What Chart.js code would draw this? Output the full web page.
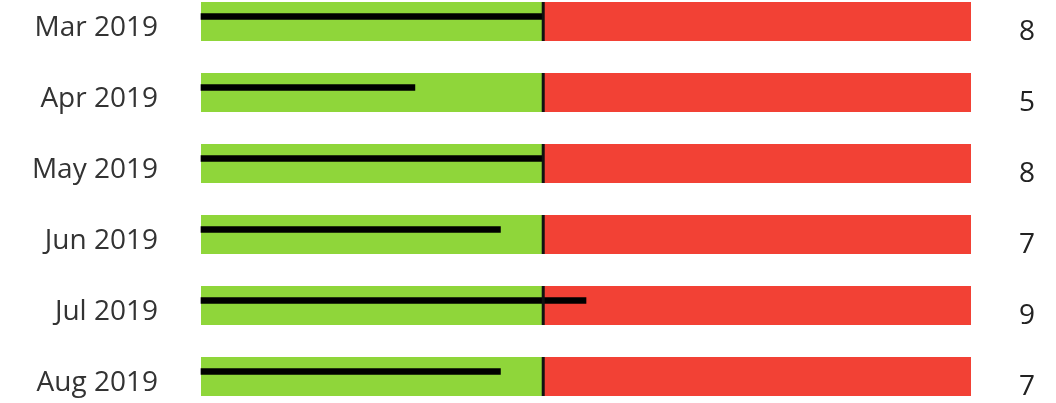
<!DOCTYPE html>
<html>
<head>
<meta charset="utf-8">
<script src="https://cdn.jsdelivr.net/npm/chart.js@4/dist/chart.umd.min.js"></script>
<style>
  html, body { margin: 0; padding: 0; background: #fff; overflow: hidden; }
  body { width: 1056px; height: 403px; position: relative; }
  /* the visual is cropped top and bottom, so the canvas runs past the window */
  #wrap { position: absolute; left: 0; top: -14px; width: 1056px; height: 426px; }
</style>
</head>
<body>
<div id="wrap"><canvas id="bullet"></canvas></div>
<script>
  const months = ["Mar 2019", "Apr 2019", "May 2019", "Jun 2019", "Jul 2019", "Aug 2019"];
  const actual = [8, 5, 8, 7, 9, 7];
  const target = [8, 8, 8, 8, 8, 8];
  const goodUpTo = [8, 8, 8, 8, 8, 8];
  const badUpTo = [18, 18, 18, 18, 18, 18];

  const GREEN = "rgb(143,214,58)";
  const RED = "rgb(242,65,53)";
  const FONT = { family: "'Open Sans', 'Noto Sans', sans-serif", size: 28 };

  // value bars sit a little above the band centre, like the original visual
  const nudgeActual = {
    id: "nudgeActual",
    beforeDatasetDraw(chart, args) {
      if (args.index !== 2) return;
      chart.ctx.save();
      chart.ctx.translate(0, -5);
    },
    afterDatasetDraw(chart, args) {
      if (args.index !== 2) return;
      chart.ctx.restore();
    },
  };

  // target marker: vertical stroke across each band at the target value
  const targetLine = {
    id: "targetLine",
    afterDatasetsDraw(chart) {
      const x = chart.scales.x;
      const bands = chart.getDatasetMeta(0).data;
      const ctx = chart.ctx;
      ctx.save();
      ctx.strokeStyle = "#111";
      ctx.lineWidth = 3;
      bands.forEach((bar, i) => {
        const px = x.getPixelForValue(target[i]);
        ctx.beginPath();
        ctx.moveTo(px, bar.y - bar.height / 2);
        ctx.lineTo(px, bar.y + bar.height / 2);
        ctx.stroke();
      });
      ctx.restore();
    },
  };

  // fixed axis widths, and no extra vertical room for the edge labels
  const fitAxis = (width) => (s) => {
    s.width = width;
    s.paddingTop = 0;
    s.paddingBottom = 0;
  };

  new Chart(document.getElementById("bullet"), {
    type: "bar",
    data: {
      labels: months,
      datasets: [
        {
          label: "Good",
          data: goodUpTo,
          backgroundColor: GREEN,
          grouped: false,
          order: 2,
          barPercentage: 1,
          categoryPercentage: 0.55,
          clip: false,
        },
        {
          label: "Bad",
          data: badUpTo.map((v, i) => [goodUpTo[i], v]),
          backgroundColor: RED,
          grouped: false,
          order: 1,
          barPercentage: 1,
          categoryPercentage: 0.55,
          clip: false,
        },
        {
          label: "Actual",
          data: actual,
          backgroundColor: "#000",
          grouped: false,
          order: 0,
          barThickness: 6,
          clip: false,
        },
      ],
    },
    options: {
      indexAxis: "y",
      responsive: true,
      maintainAspectRatio: false,
      animation: false,
      layout: { padding: 0 },
      plugins: { legend: { display: false }, tooltip: { enabled: false } },
      scales: {
        x: {
          display: false,
          min: 0,
          max: 18,
        },
        y: {
          position: "left",
          offset: true,
          grid: { display: false },
          border: { display: false },
          ticks: { color: "#333", font: FONT, padding: 35, labelOffset: 7 },
          afterFit: fitAxis(201),
        },
        y2: {
          type: "category",
          position: "right",
          display: true,
          offset: true,
          grid: { display: false },
          border: { display: false },
          labels: actual.map(String),
          ticks: { color: "#222", font: FONT, padding: 40, labelOffset: 11 },
          afterFit: fitAxis(85),
        },
      },
    },
    plugins: [nudgeActual, targetLine],
  });
</script>
</body>
</html>
